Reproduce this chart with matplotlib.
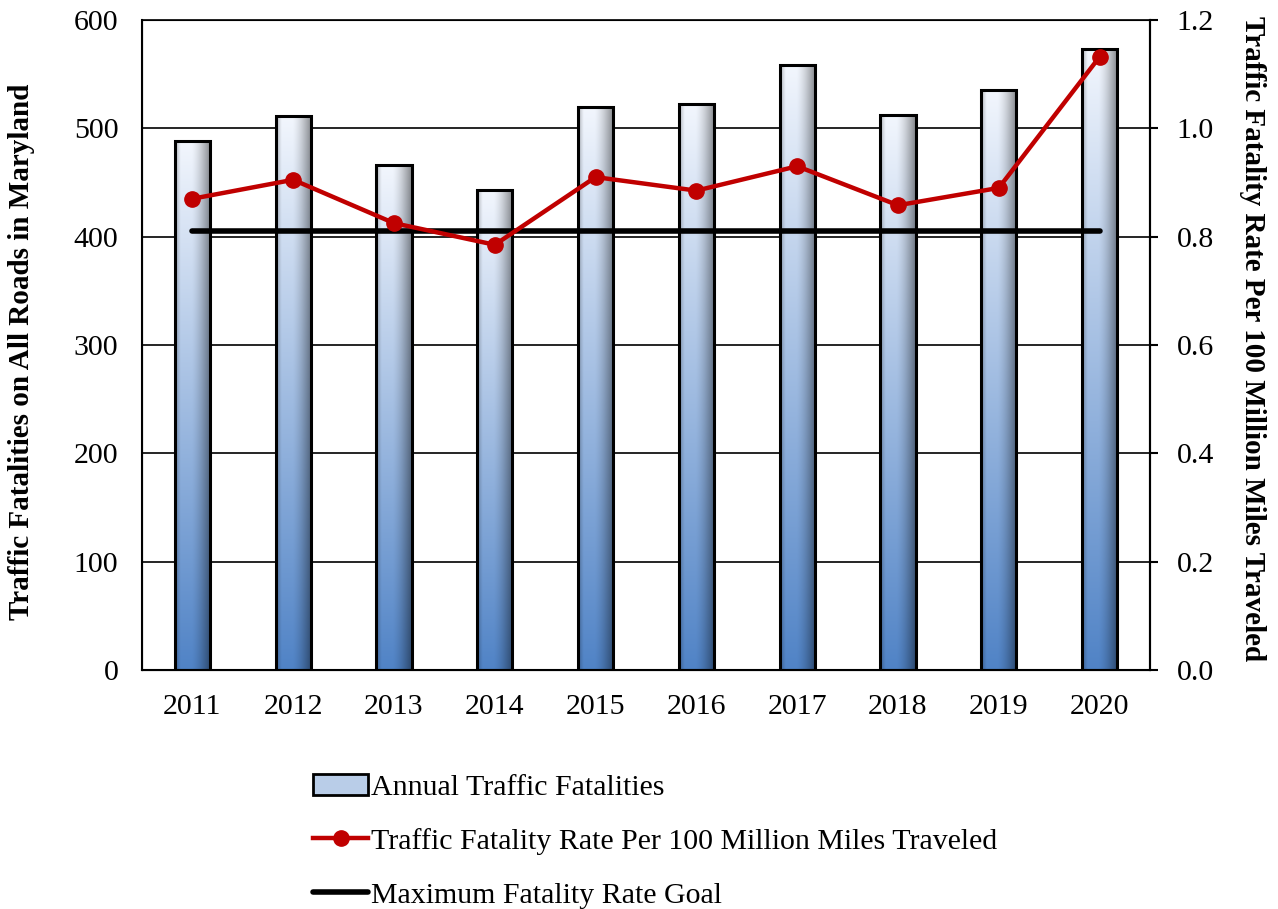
import matplotlib
matplotlib.use('Agg')
import matplotlib.pyplot as plt
import numpy as np
from matplotlib.patches import Patch
from matplotlib.lines import Line2D
from matplotlib.colors import to_rgb

years = ['2011', '2012', '2013', '2014', '2015', '2016', '2017', '2018', '2019', '2020']
fatalities = [488, 511, 466, 443, 520, 522, 558, 512, 535, 573]
rate = [0.87, 0.905, 0.825, 0.785, 0.91, 0.885, 0.93, 0.858, 0.89, 1.132]
goal = [0.81] * len(years)

plt.rcParams['font.family'] = 'Liberation Serif'
plt.rcParams['font.size'] = 21.5

fig = plt.figure(figsize=(12.78, 9.09), dpi=100)
ax = fig.add_axes([142 / 1278, 1 - 670 / 909, 1008 / 1278, 650 / 909])
ax2 = ax.twinx()

x = np.arange(len(years))
w = 0.35

# gradient fill for bars: light at top, blue at bottom, shaded edges
top_c = np.array(to_rgb('#f2f6fd'))
bot_c = np.array(to_rgb('#5083c6'))
ny, nx = 200, 40
t = np.linspace(0, 1, ny)[:, None, None]
vert = bot_c * (1 - t) + top_c * t
u = np.linspace(0, 1, nx)
shade = 1 - 0.45 * np.clip((u - 0.45) / 0.55, 0, 1) ** 1.5 - 0.25 * np.clip((0.15 - u) / 0.15, 0, 1)
grad = np.clip(vert * shade[None, :, None], 0, 1)

for xi, h in zip(x, fatalities):
    ax.imshow(grad, extent=(xi - w / 2, xi + w / 2, 0, h), origin='lower',
              aspect='auto', zorder=2, interpolation='bilinear')
ax.bar(x, fatalities, w, facecolor='none', edgecolor='black', linewidth=2.2, zorder=3)

ax.set_xlim(-0.5, len(years) - 0.5)
ax.set_ylim(0, 600)
ax.set_yticks(range(0, 601, 100))
ax.yaxis.grid(True, color='black', linewidth=1.2, zorder=0)
ax.set_axisbelow(True)
ax.set_xticks(x)
ax.set_xticklabels(years)
ax.tick_params(axis='x', length=0, pad=17.5)
ax.tick_params(axis='y', length=0, pad=17)
for s in ['left', 'bottom', 'right']:
    ax.spines[s].set_linewidth(1.5)
ax.spines['top'].set_linewidth(1.2)
ax.set_ylabel('Traffic Fatalities on All Roads in Maryland', fontweight='bold', fontsize=21)
ax.yaxis.set_label_coords(-0.106, 0.49)

ax2.plot(x, goal, color='black', linewidth=4, solid_capstyle='round', zorder=4)
ax2.plot(x, rate, color='#c00000', linewidth=3.2, marker='o', markersize=11, zorder=5)
ax2.set_ylim(0, 1.2)
ax2.set_yticks(np.arange(0, 1.21, 0.2))
ax2.set_yticklabels([f'{v:.1f}' for v in np.arange(0, 1.21, 0.2)])
ax2.tick_params(axis='y', length=6, width=1.5, pad=13)
ax2.spines['right'].set_linewidth(1.5)
ax2.set_ylabel('Traffic Fatality Rate Per 100 Million Miles Traveled', fontweight='bold',
               fontsize=21, rotation=270, va='center')
ax2.yaxis.set_label_coords(1.102, 0.51)

handles = [
    Patch(facecolor='#b9cde8', edgecolor='black', linewidth=2),
    Line2D([], [], color='#c00000', linewidth=3.2, marker='o', markersize=11),
    Line2D([], [], color='black', linewidth=4, solid_capstyle='round'),
]
labels = ['Annual Traffic Fatalities',
          'Traffic Fatality Rate Per 100 Million Miles Traveled',
          'Maximum Fatality Rate Goal']
fig.legend(handles, labels, loc='upper left', bbox_to_anchor=(313 / 1278, 1 - 774 / 909),
           frameon=False, handlelength=1.85, handletextpad=0.1, labelspacing=0.9,
           borderpad=0, borderaxespad=0)

fig.savefig('out.png', dpi=100)
